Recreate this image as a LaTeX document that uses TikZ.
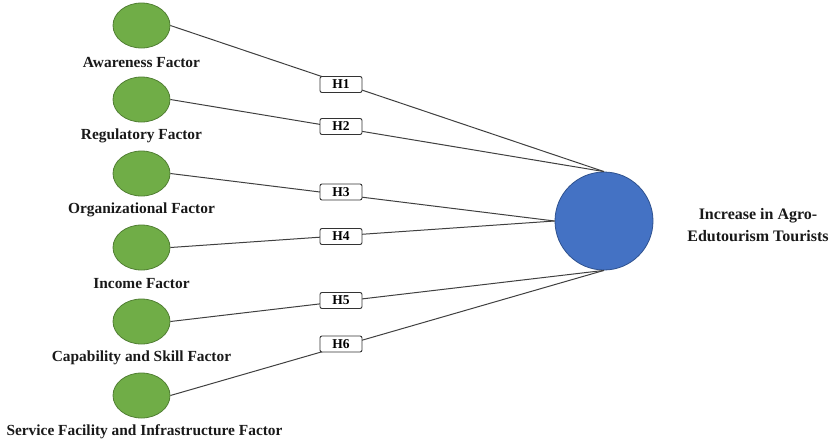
\documentclass[tikz,border=0pt]{standalone}
\usepackage{fontspec}
\setmainfont{Liberation Serif}
\usetikzlibrary{shapes.geometric}
\definecolor{gfill}{HTML}{70AD47}
\definecolor{gdraw}{HTML}{507E32}
\definecolor{bfill}{HTML}{4472C4}
\definecolor{bdraw}{HTML}{2F528F}
\definecolor{lnc}{HTML}{404040}
\tikzset{
  factor/.style={ellipse, draw=gdraw, fill=gfill, line width=0.8pt, minimum width=57pt, minimum height=45pt, inner sep=0pt},
  flabel/.style={font=\fontsize{15.4}{17}\selectfont\bfseries, text=black!90, inner sep=0pt},
  hbox/.style={draw=black!80, fill=white, rounded corners=2pt, line width=0.9pt, minimum width=42pt, minimum height=16pt, inner sep=0pt, font=\fontsize{13.5}{15}\selectfont\bfseries},
  target/.style={circle, draw=bdraw, fill=bfill, line width=0.8pt, minimum size=98pt, inner sep=0pt},
  conn/.style={draw=lnc, line width=1pt}
}
\begin{document}
\begin{tikzpicture}[x=1pt,y=-1pt]
\useasboundingbox (0,0) rectangle (837,445);
\node[target] (T) at (604,221) {};
\node[flabel, align=center, font=\fontsize{16}{22}\selectfont\bfseries] (TL) at (758,225) {Increase in Agro-\\Edutourism Tourists};

\node[factor] (F1) at (141.5,25.5) {};
\node[factor] (F2) at (141.5,99.5) {};
\node[factor] (F3) at (141.5,173.5) {};
\node[factor] (F4) at (141.5,247.5) {};
\node[factor] (F5) at (141.5,321.5) {};
\node[factor] (F6) at (141.5,395.5) {};

\node[flabel] (L1) at (141.5,62) {Awareness Factor};
\node[flabel] (L2) at (141.5,136) {Regulatory Factor};
\node[flabel] (L3) at (141.5,210) {Organizational Factor};
\node[flabel] (L4) at (141.5,284) {Income Factor};
\node[flabel] (L5) at (141.5,358) {Capability and Skill Factor};
\node[flabel] (L6) at (144.5,432) {Service Facility and Infrastructure Factor};

\draw[conn] (F1.east) -- (T.north);
\draw[conn] (F2.east) -- (T.north);
\draw[conn] (F3.east) -- (T.west);
\draw[conn] (F4.east) -- (T.west);
\draw[conn] (F5.east) -- (T.south);
\draw[conn] (F6.east) -- (T.south);

\node[hbox] (H1) at (341,84.5) {H1};
\node[hbox] (H2) at (341,126.5) {H2};
\node[hbox] (H3) at (341,192) {H3};
\node[hbox] (H4) at (341,236.5) {H4};
\node[hbox] (H5) at (341,300.5) {H5};
\node[hbox] (H6) at (341,344) {H6};
\end{tikzpicture}
\end{document}
